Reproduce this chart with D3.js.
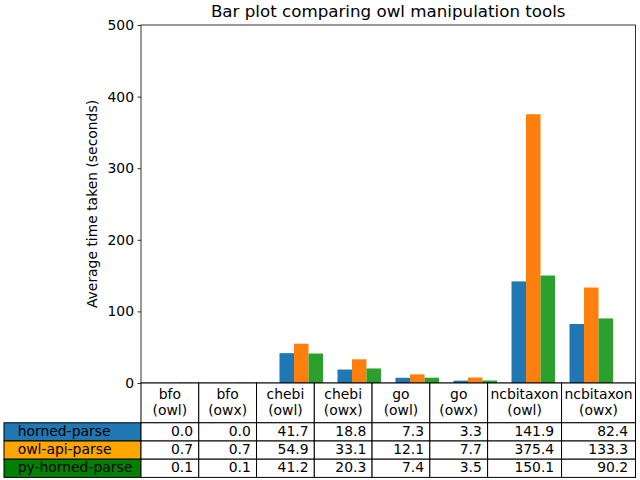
<!DOCTYPE html>
<html>
<head>
<meta charset="utf-8">
<script src="https://cdn.jsdelivr.net/npm/d3@7"></script>
<style>
  html, body { margin: 0; padding: 0; background: #fff; }
  svg { display: block; font-family: "DejaVu Sans", sans-serif; }
</style>
</head>
<body>
<svg id="chart" width="640" height="480"></svg>
<script>
// ---- data ----
const categories = ["bfo (owl)", "bfo (owx)", "chebi (owl)", "chebi (owx)", "go (owl)", "go (owx)", "ncbitaxon (owl)", "ncbitaxon (owx)"];
const seriesNames = ["horned-parse", "owl-api-parse", "py-horned-parse"];
const hornedParse = [0.0, 0.0, 41.7, 18.8, 7.3, 3.3, 141.9, 82.4];
const owlApiParse = [0.7, 0.7, 54.9, 33.1, 12.1, 7.7, 375.4, 133.3];
const pyHornedParse = [0.1, 0.1, 41.2, 20.3, 7.4, 3.5, 150.1, 90.2];
const yTicks = [0, 100, 200, 300, 400, 500];
const title = "Bar plot comparing owl manipulation tools";
const yLabel = "Average time taken (seconds)";

const seriesValues = [hornedParse, owlApiParse, pyHornedParse];
const barColors = ["#1f77b4", "#ff7f0e", "#2ca02c"];
const rowLabelColors = ["#1f77b4", "#ffa500", "#008000"];

// ---- layout ----
const svg = d3.select("#chart");
const plot = { left: 141, right: 635.5, top: 25, bottom: 383 };
const barW = 0.25;
const n = categories.length;
const extentMin = 0, extentMax = (n - 1) + 3 * barW;
const margin = 0.05 * (extentMax - extentMin);

const x = d3.scaleLinear().domain([extentMin - margin, extentMax + margin]).range([plot.left, plot.right]);
const y = d3.scaleLinear().domain([0, 500]).range([plot.bottom, plot.top]);

// bars
const bars = [];
seriesValues.forEach((vals, s) => vals.forEach((v, i) => bars.push({ s, i, v })));
svg.append("g").selectAll("rect").data(bars).join("rect")
  .attr("x", d => x(d.i + d.s * barW))
  .attr("width", d => x(d.i + (d.s + 1) * barW) - x(d.i + d.s * barW))
  .attr("y", d => y(d.v))
  .attr("height", d => y(0) - y(d.v))
  .attr("fill", d => barColors[d.s]);

// y axis
const yAxis = d3.axisLeft(y).tickValues(yTicks).tickSize(3.5).tickPadding(3.5).tickFormat(d3.format("d"));
const gy = svg.append("g").attr("transform", `translate(${plot.left},0)`).call(yAxis);
gy.select(".domain").remove();
gy.selectAll(".tick line").attr("stroke", "#000").attr("stroke-width", 0.8);
gy.selectAll(".tick text").attr("font-size", 13.9).attr("font-family", "DejaVu Sans").attr("fill", "#000");

// spines
svg.append("rect")
  .attr("x", plot.left).attr("y", plot.top)
  .attr("width", plot.right - plot.left).attr("height", plot.bottom - plot.top)
  .attr("fill", "none").attr("stroke", "#000").attr("stroke-width", 0.8);

// title
svg.append("text")
  .attr("x", (plot.left + plot.right) / 2).attr("y", 16.5)
  .attr("text-anchor", "middle").attr("font-size", 16.7).attr("fill", "#000")
  .text(title);

// y label
svg.append("text")
  .attr("transform", `translate(97,${(plot.top + plot.bottom) / 2}) rotate(-90)`)
  .attr("text-anchor", "middle").attr("font-size", 13.9).attr("fill", "#000")
  .text(yLabel);

// ---- table ----
const colWeights = categories.map(c => c.startsWith("ncbitaxon") ? 1.28 : 1);
const totalW = plot.right - plot.left;
const wsum = d3.sum(colWeights);
const colEdges = [plot.left];
colWeights.forEach(w => colEdges.push(colEdges[colEdges.length - 1] + w / wsum * totalW));
const labelLeft = 4;
const headerTop = plot.bottom, headerBottom = 422.8;
const rowH = 18.2;
const tbl = svg.append("g");
const fs = 13.9;

// header cells
categories.forEach((c, i) => {
  const x0 = colEdges[i], x1 = colEdges[i + 1];
  tbl.append("rect").attr("x", x0).attr("y", headerTop).attr("width", x1 - x0).attr("height", headerBottom - headerTop)
    .attr("fill", "#fff").attr("stroke", "#000").attr("stroke-width", 1);
  const parts = c.split(" ");
  const t = tbl.append("text").attr("text-anchor", "middle").attr("font-size", fs).attr("fill", "#000");
  t.append("tspan").attr("x", (x0 + x1) / 2).attr("y", 398.5).text(parts[0]);
  t.append("tspan").attr("x", (x0 + x1) / 2).attr("y", 415.2).text(parts[1]);
});

// data rows
seriesNames.forEach((name, r) => {
  const top = headerBottom + r * rowH;
  tbl.append("rect").attr("x", labelLeft).attr("y", top).attr("width", plot.left - labelLeft).attr("height", rowH)
    .attr("fill", rowLabelColors[r]).attr("stroke", "#000").attr("stroke-width", 1);
  tbl.append("text").attr("x", labelLeft + 0.1 * (plot.left - labelLeft)).attr("y", top + 12.8)
    .attr("font-size", fs).attr("fill", "#000").text(name);
  seriesValues[r].forEach((v, i) => {
    const x0 = colEdges[i], x1 = colEdges[i + 1];
    tbl.append("rect").attr("x", x0).attr("y", top).attr("width", x1 - x0).attr("height", rowH)
      .attr("fill", "#fff").attr("stroke", "#000").attr("stroke-width", 1);
    tbl.append("text").attr("x", x1 - 0.1 * (x1 - x0)).attr("y", top + 12.8)
      .attr("text-anchor", "end").attr("font-size", fs).attr("fill", "#000").text(d3.format(".1f")(v));
  });
});
</script>
</body>
</html>
